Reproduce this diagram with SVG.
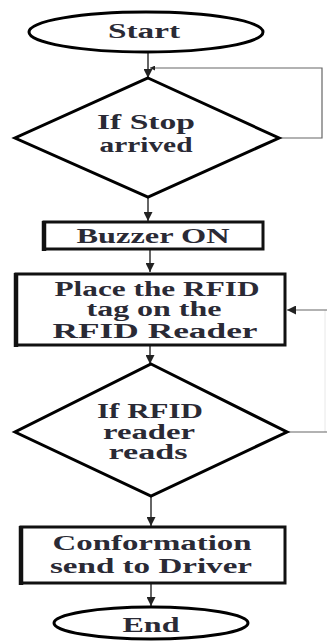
<svg xmlns="http://www.w3.org/2000/svg" width="327" height="642" viewBox="0 0 327 642">
<defs>
<marker id="ah" viewBox="0 0 10 10" refX="10" refY="5" markerWidth="6" markerHeight="5" orient="auto" markerUnits="userSpaceOnUse">
<path d="M0,0 L10,5 L0,10 z" fill="#222"/>
</marker>
<marker id="ahb" viewBox="0 0 10 10" refX="10" refY="5" markerWidth="9" markerHeight="9" orient="auto" markerUnits="userSpaceOnUse">
<path d="M0,0 L10,5 L0,10 z" fill="#222"/>
</marker>
</defs>
<style>
.shape{fill:#fff;stroke:#000;stroke-width:3;stroke-linejoin:miter}
.box{fill:#fff;stroke:#111;stroke-width:3}
.edge{fill:none;stroke:#333;stroke-width:1.5}
.thin{fill:none;stroke:#666;stroke-width:1.2}
.faint{fill:none;stroke:#e8e8e8;stroke-width:1}
text{font-family:"Liberation Serif","Times New Roman",serif;font-weight:bold;font-size:20px;fill:#2a2a35;text-anchor:middle}
</style>
<rect width="327" height="642" fill="#fff"/>
<g id="connectors">
<line class="edge" x1="148" y1="53" x2="148" y2="78" marker-end="url(#ahb)"/>
<polyline class="thin" points="279,138 322,138 322,68 150,68" marker-end="url(#ah)"/>
<line class="edge" x1="148" y1="197" x2="148" y2="221" marker-end="url(#ahb)"/>
<line class="edge" x1="150" y1="250" x2="150" y2="272" marker-end="url(#ahb)"/>
<line class="faint" x1="325" y1="310" x2="325" y2="432"/>
<line class="thin" x1="327" y1="310" x2="287" y2="310" marker-end="url(#ahb)"/>
<line class="edge" x1="150" y1="346" x2="150" y2="364" marker-end="url(#ahb)"/>
<line class="thin" x1="287" y1="432" x2="327" y2="432"/>
<line class="edge" x1="151" y1="496" x2="151" y2="526" marker-end="url(#ahb)"/>
<line class="edge" x1="151" y1="584" x2="151" y2="606" marker-end="url(#ahb)"/>
</g>
<g id="start">
<ellipse class="shape" cx="146" cy="32" rx="117" ry="20"/>
<text x="144" y="38" textLength="72" lengthAdjust="spacingAndGlyphs">Start</text>
</g>
<g id="stop-decision">
<polygon class="shape" points="148,78 279,138 148,197 15,138"/>
<text x="146" y="129" textLength="98" lengthAdjust="spacingAndGlyphs">If Stop</text>
<text x="146" y="152" textLength="93" lengthAdjust="spacingAndGlyphs">arrived</text>
</g>
<g id="buzzer">
<rect class="box" x="44" y="222" width="219" height="27"/>
<line x1="44" y1="221" x2="44" y2="251" stroke="#111" stroke-width="4.5"/>
<text x="153" y="243" textLength="153" lengthAdjust="spacingAndGlyphs">Buzzer ON</text>
</g>
<g id="place-tag">
<rect class="box" x="16" y="274" width="269" height="71"/>
<line x1="16" y1="273" x2="16" y2="347" stroke="#111" stroke-width="4.5"/>
<text x="157" y="296" textLength="205" lengthAdjust="spacingAndGlyphs">Place the RFID</text>
<text x="154" y="316" textLength="135" lengthAdjust="spacingAndGlyphs">tag on the</text>
<text x="155" y="338" textLength="205" lengthAdjust="spacingAndGlyphs">RFID Reader</text>
</g>
<g id="rfid-decision">
<polygon class="shape" points="151,364 287,432 151,496 15,432"/>
<text x="150" y="418" textLength="106" lengthAdjust="spacingAndGlyphs">If RFID</text>
<text x="149" y="439" textLength="92" lengthAdjust="spacingAndGlyphs">reader</text>
<text x="148" y="459" textLength="79" lengthAdjust="spacingAndGlyphs">reads</text>
</g>
<g id="confirmation">
<rect class="box" x="21" y="527" width="264" height="56"/>
<line x1="21" y1="526" x2="21" y2="585" stroke="#111" stroke-width="4.5"/>
<text x="152" y="550" textLength="199" lengthAdjust="spacingAndGlyphs">Conformation</text>
<text x="151" y="573" textLength="202" lengthAdjust="spacingAndGlyphs">send to Driver</text>
</g>
<g id="end">
<ellipse class="shape" cx="151" cy="623" rx="97" ry="16"/>
<text x="151" y="632" textLength="57" lengthAdjust="spacingAndGlyphs">End</text>
</g>
</svg>
